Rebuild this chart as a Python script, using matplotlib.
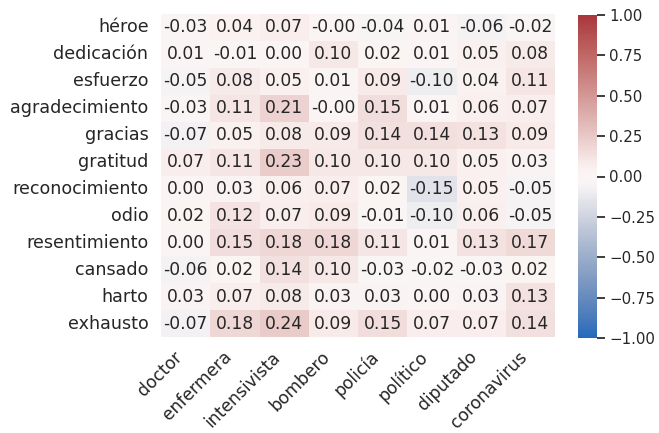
import matplotlib
matplotlib.use("Agg")
import matplotlib.pyplot as plt
import matplotlib.ticker as mticker
import seaborn as sns
import pandas as pd

sns.set_theme(style="white")
plt.rcParams['font.family'] = ['DejaVu Sans']

words = ["héroe", "dedicación", "esfuerzo", "agradecimiento", "gracias", "gratitud",
         "reconocimiento", "odio", "resentimiento", "cansado", "harto", "exhausto"]
targets = ["doctor", "enfermera", "intensivista", "bombero", "policía", "político",
           "diputado", "coronavirus"]

heroe = [-0.03, 0.04, 0.07, -0.00, -0.04, 0.01, -0.06, -0.02]
dedicacion = [0.01, -0.01, 0.00, 0.10, 0.02, 0.01, 0.05, 0.08]
esfuerzo = [-0.05, 0.08, 0.05, 0.01, 0.09, -0.10, 0.04, 0.11]
agradecimiento = [-0.03, 0.11, 0.21, -0.00, 0.15, 0.01, 0.06, 0.07]
gracias = [-0.07, 0.05, 0.08, 0.09, 0.14, 0.14, 0.13, 0.09]
gratitud = [0.07, 0.11, 0.23, 0.10, 0.10, 0.10, 0.05, 0.03]
reconocimiento = [0.00, 0.03, 0.06, 0.07, 0.02, -0.15, 0.05, -0.05]
odio = [0.02, 0.12, 0.07, 0.09, -0.01, -0.10, 0.06, -0.05]
resentimiento = [0.00, 0.15, 0.18, 0.18, 0.11, 0.01, 0.13, 0.17]
cansado = [-0.06, 0.02, 0.14, 0.10, -0.03, -0.02, -0.03, 0.02]
harto = [0.03, 0.07, 0.08, 0.03, 0.03, 0.00, 0.03, 0.13]
exhausto = [-0.07, 0.18, 0.24, 0.09, 0.15, 0.07, 0.07, 0.14]

cbar_ticks = [-1, -0.75, -0.5, -0.25, 0, 0.25, 0.5, 0.75, 1]

df = pd.DataFrame([heroe, dedicacion, esfuerzo, agradecimiento, gracias, gratitud,
                   reconocimiento, odio, resentimiento, cansado, harto, exhausto],
                  index=words, columns=targets)

fig = plt.figure(figsize=(6.59, 4.33), dpi=100)
W, H = 659, 433
ax = fig.add_axes([161 / W, 1 - 337 / H, (555 - 161) / W, (337 - 14) / H])
cax = fig.add_axes([578 / W, 1 - 338 / H, (597 - 578) / W, (338 - 15) / H])

sns.heatmap(df, ax=ax, cbar_ax=cax, cmap="vlag", vmin=-1, vmax=1,
            annot=True, fmt=".2f", annot_kws={"fontsize": 12.3, "color": "#262626"})

ax.set_xticklabels(targets, rotation=45, ha="right", fontsize=12.3, color="#262626")
ax.set_yticklabels(words, rotation=0, fontsize=12.6, color="#262626")
ax.tick_params(axis="both", length=0, pad=9)
ax.tick_params(axis="x", pad=8)

cax.tick_params(labelsize=10.8, length=5.5, width=1.25, color="#262626", labelcolor="#262626")
cax.yaxis.set_ticks(cbar_ticks)
cax.yaxis.set_major_formatter(
    mticker.FuncFormatter(lambda v, pos: f"{v:.2f}".replace("-", "\u2212")))
for sp in cax.spines.values():
    sp.set_visible(False)

fig.savefig("out.png", dpi=100)
